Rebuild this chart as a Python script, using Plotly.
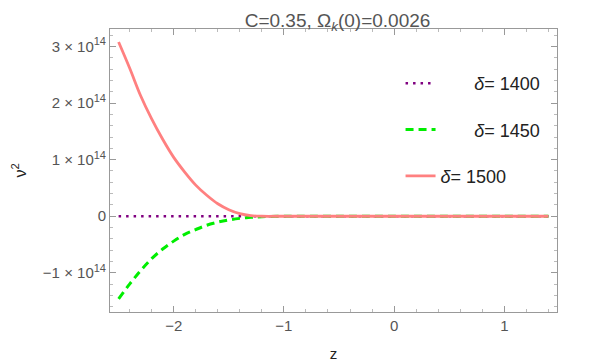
import plotly.graph_objects as go

# z grid
z = [-2.5, -2.4, -2.3, -2.2, -2.1, -2.0, -1.9, -1.8, -1.7, -1.6, -1.5, -1.4,
     -1.3, -1.2, -1.0, -0.5, 0.0, 0.5, 1.0, 1.4]

# nu^2 values for each delta
v2_1400 = [0.0] * 20
v2_1450 = [-1.46e14, -1.20e14, -0.96e14, -0.75e14, -0.58e14, -0.44e14, -0.32e14,
           -0.235e14, -0.16e14, -0.105e14, -0.065e14, -0.038e14, -0.02e14,
           -0.008e14, 0.0, 0.0, 0.0, 0.0, 0.0, 0.0]
v2_1500 = [3.08e14, 2.62e14, 2.13e14, 1.72e14, 1.36e14, 1.04e14, 0.78e14,
           0.55e14, 0.37e14, 0.22e14, 0.115e14, 0.045e14, 0.01e14,
           0.0, 0.0, 0.0, 0.0, 0.0, 0.0, 0.0]

sup = "<sup><span style='font-size:11px'>14</span></sup>"
y_ticks = [-1e14, 0, 1e14, 2e14, 3e14]
y_ticktext = ["\u22121 \u00d7 10" + sup, "0", "1 \u00d7 10" + sup,
              "2 \u00d7 10" + sup, "3 \u00d7 10" + sup]
x_ticks = [-2, -1, 0, 1]
x_ticktext = ["\u22122", "\u22121", "0", "1"]

pad = "\u00a0" * 6 + "\u2009"  # the first two legend entries sit further right

fig = go.Figure()
fig.add_trace(go.Scatter(x=z, y=v2_1400, mode="lines", name=pad + "<i>\u03b4</i>= 1400",
                         legendgroup="a", line=dict(color="#800080", width=2.5, dash="2.5px,5px")))
fig.add_trace(go.Scatter(x=z, y=v2_1450, mode="lines", name=pad + "<i>\u03b4</i>= 1450",
                         legendgroup="b", line=dict(color="#00ee00", width=3, dash="8px,5px",
                                                    shape="spline")))
fig.add_trace(go.Scatter(x=z, y=v2_1500, mode="lines", name="<i>\u03b4</i>= 1500",
                         legendgroup="c", line=dict(color="#ff8080", width=2.8,
                                                    shape="spline")))

axis_common = dict(showgrid=False, zeroline=False, showline=True, linecolor="#999999",
                   linewidth=1, mirror="ticks", ticks="inside", ticklen=6, tickcolor="#999999",
                   tickfont=dict(family="Liberation Sans, Arial", size=15, color="#555555"),
                   minor=dict(ticks="inside", ticklen=3, tickcolor="#bbbbbb"))

fig.update_xaxes(range=[-2.578, 1.478], tickvals=x_ticks, ticktext=x_ticktext,
                 minor_dtick=0.2, title=dict(text="z", font=dict(size=15, color="#222222"),
                                             standoff=15), **axis_common)
fig.update_yaxes(range=[-1.693e14, 3.31e14], tickvals=y_ticks, ticktext=y_ticktext,
                 minor_dtick=0.2e14, title=dict(text="\u03bd<sup>2</sup>",
                                                font=dict(size=16, color="#222222"),
                                                standoff=12), **axis_common)

# the page body adds an 8px offset, so margins are shifted to compensate
fig.update_layout(
    width=612, height=364,
    margin=dict(l=99, r=63, t=21, b=59),
    plot_bgcolor="white", paper_bgcolor="white",
    font=dict(family="Liberation Sans, Arial"),
    title=dict(text="C=0.35, \u03a9<sub><i>k</i></sub>(0)=0.0026", xref="paper", x=0.509,
               xanchor="center", y=0.985, yanchor="top",
               font=dict(size=19, color="#555555")),
    legend=dict(x=0.65, y=0.873, xanchor="left", yanchor="top", bgcolor="rgba(0,0,0,0)",
                font=dict(size=18, color="#222222"), tracegroupgap=20),
    showlegend=True,
)

fig.write_html("out.html")
